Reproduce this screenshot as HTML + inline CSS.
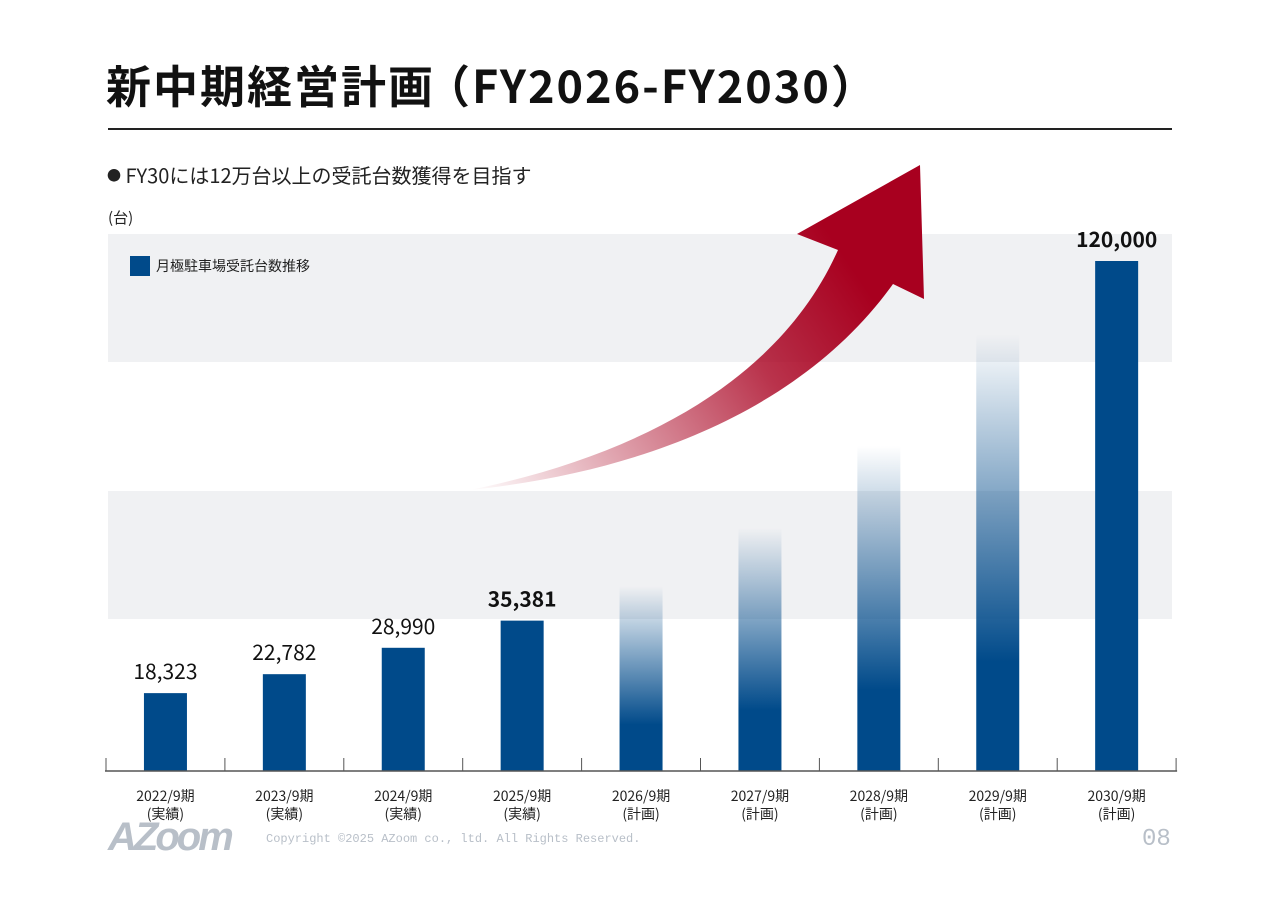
<!DOCTYPE html>
<html><head><meta charset="utf-8"><style>
body{margin:0;background:#fff;font-family:"Liberation Sans","Noto Sans CJK JP",sans-serif;}
#root{position:relative;width:1280px;height:905px;overflow:hidden;}
.t{position:absolute;white-space:nowrap;}
</style></head><body>
<div id="root">
<div class="t" style="left:106px;top:51px;font-size:45px;font-weight:bold;color:#111;font-family:'Noto Sans CJK JP',sans-serif;letter-spacing:2px;">新中期経営計画<span style="margin-left:-10px">（</span>FY2026-FY2030<span style="margin-right:-10px">）</span></div>
<div style="position:absolute;left:108px;top:128px;width:1064px;height:2px;background:#222;"></div>
<div class="t" style="left:107px;top:160px;font-size:20px;color:#222;font-family:'Noto Sans CJK JP',sans-serif;"><span style="font-size:14px;vertical-align:2px">●</span> FY30には12万台以上の受託台数獲得を目指す</div>
<div class="t" style="left:108px;top:207px;font-size:15px;color:#222;font-family:'Noto Sans CJK JP',sans-serif;">(台)</div>
<svg id="chart" width="1280" height="905" style="position:absolute;left:0;top:0">
<defs>
<linearGradient id="fade" x1="0" y1="0" x2="0" y2="1"><stop offset="0" stop-color="#004a8a" stop-opacity="0"/><stop offset="0.75" stop-color="#004a8a" stop-opacity="1"/><stop offset="1" stop-color="#004a8a"/></linearGradient>
<linearGradient id="arrowg" x1="470" y1="490" x2="900" y2="200" gradientUnits="userSpaceOnUse"><stop offset="0" stop-color="#a8001f" stop-opacity="0"/><stop offset="0.6" stop-color="#a8001f" stop-opacity="0.8"/><stop offset="0.85" stop-color="#a8001f"/></linearGradient>
</defs>
<g id="bands"></g>
<path fill="url(#arrowg)" d="M470 490 C640 455 780 380 838 250 L797 234 L920 165 L924 299 L893 284 C810 400 660 470 470 490 Z"/>
<g id="bars"></g>
<g id="axis"></g>
</svg>
<div style="position:absolute;left:130px;top:256px;width:20px;height:20px;background:#004a8a;"></div>
<div class="t" style="left:156px;top:256px;font-size:14px;color:#222;font-family:'Noto Sans CJK JP',sans-serif;">月極駐車場受託台数推移</div>
<div class="t" style="left:108px;top:815px;font-size:40px;font-weight:bold;font-style:italic;color:#b8bfc8;letter-spacing:-3px;">AZoom</div>
<div class="t" style="left:266px;top:832px;font-size:12px;color:#b8bfc8;font-family:'Liberation Mono',monospace;">Copyright ©2025 AZoom co., ltd. All Rights Reserved.</div>
<div class="t" style="left:1142px;top:826px;font-size:24px;color:#b8bfc8;font-family:'Liberation Mono',monospace;">08</div>
</div>
<script>
const categories=["2022/9期","2023/9期","2024/9期","2025/9期","2026/9期","2027/9期","2028/9期","2029/9期","2030/9期"];
const subLabels=["(実績)","(実績)","(実績)","(実績)","(計画)","(計画)","(計画)","(計画)","(計画)"];
const values=[18323,22782,28990,35381,43500,57200,76500,102800,120000];
const valueLabels=["18,323","22,782","28,990","35,381","","","","","120,000"];
const planned=[false,false,false,false,true,true,true,true,false];
const ns="http://www.w3.org/2000/svg";
const x0=106,step=118.9,base=771,scale=510/120000;
const xc=i=>x0+step*(i+0.5);
const y=v=>base-v*scale;
function mk(t,a,p){const e=document.createElementNS(ns,t);for(const k in a)e.setAttribute(k,a[k]);p.appendChild(e);return e;}
const bands=document.getElementById('bands');
[[234,128],[491,128]].forEach(b=>{const r=mk('rect',{x:108,y:b[0],width:1064,height:b[1],fill:'#f0f1f3'},bands);

});
const bars=document.getElementById('bars');
values.forEach((v,i)=>{
const r=mk('rect',{x:xc(i)-21.5,y:y(v),width:43,height:base-y(v),fill:planned[i]?'url(#fade)':'#004a8a'},bars);


if(valueLabels[i]){const bold=(i==3||i==8);
const t=mk('text',{x:xc(i),y:y(v)-14,'text-anchor':'middle','font-size':21,'font-weight':bold?'bold':'normal',fill:'#111','font-family':'Noto Sans CJK JP, sans-serif'},bars);
t.textContent=valueLabels[i];

}
const t1=mk('text',{x:xc(i),y:801,'text-anchor':'middle','font-size':14,fill:'#222','font-family':'Noto Sans CJK JP, sans-serif'},bars);
t1.textContent=categories[i];


const t2=mk('text',{x:xc(i),y:819,'text-anchor':'middle','font-size':14,fill:'#222','font-family':'Noto Sans CJK JP, sans-serif'},bars);
t2.textContent=subLabels[i];


});
const ax=document.getElementById('axis');
const l=mk('line',{x1:x0-1,y1:base,x2:x0+step*9+1,y2:base,stroke:'#555','stroke-width':1.5},ax);


for(let i=0;i<=9;i++){const tk=mk('line',{x1:x0+step*i,y1:base-13,x2:x0+step*i,y2:base,stroke:'#555','stroke-width':1},ax);

}
</script>
</body></html>
